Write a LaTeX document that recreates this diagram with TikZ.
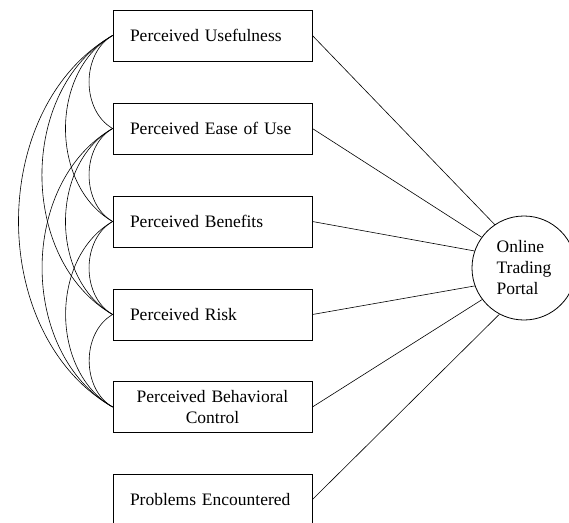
\documentclass[tikz,border=0pt]{standalone}
\usepackage{fontspec}
\setmainfont{Liberation Serif}
\tikzset{
    factor/.style={draw, line width=0.8pt, minimum width=199pt, minimum height=51pt,
        text width=165pt, inner xsep=17pt, align=left,
        font=\fontsize{17.5}{21}\selectfont},
    portal/.style={draw, circle, line width=0.8pt, minimum size=104pt, inner sep=0pt,
        align=left, font=\fontsize{17.5}{21}\selectfont},
    link/.style={line width=0.6pt},
}
\begin{document}
\begin{tikzpicture}[x=1pt, y=-1pt]
    \useasboundingbox (0,0) rectangle (569,522);

    % Factors
    \node[factor] (pu)   at (212.5, 35.5)  {Perceived Usefulness};
    \node[factor] (peou) at (212.5, 128.5) {Perceived Ease of Use};
    \node[factor] (pb)   at (212.5, 221.5) {Perceived Benefits};
    \node[factor] (pr)   at (212.5, 314.5) {Perceived Risk};
    \node[factor, align=center] (pbc) at (212.5, 407) {Perceived Behavioral\\Control};
    \node[factor] (pe)   at (212.5, 499.5) {Problems Encountered};

    % Portal
    \node[portal] (otp) at (524, 268) {Online\\Trading\\Portal};

    % Links to the portal
    \foreach \f/\a in {pu/124, peou/144, pb/161, pr/200, pbc/217, pe/242} {
        \draw[link] (\f.east) -- (otp.\a);
    }

    % Correlations
    \foreach \a/\b in {pu/peou, pu/pb, pu/pr, pu/pbc,
                       peou/pb, peou/pr, peou/pbc,
                       pb/pr, pb/pbc, pr/pbc} {
        \draw[link] (\a.west) to[bend right=60] (\b.west);
    }
\end{tikzpicture}
\end{document}
